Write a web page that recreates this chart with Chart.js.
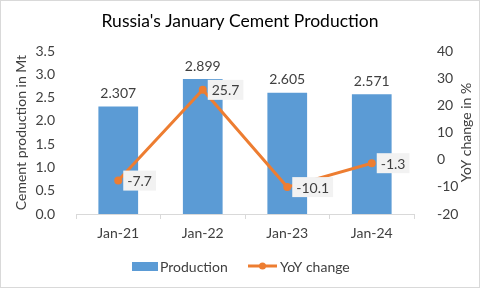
<!DOCTYPE html>
<html>
<head>
<meta charset="utf-8">
<script src="https://cdn.jsdelivr.net/npm/chart.js@4.4.1/dist/chart.umd.min.js"></script>
<style>
  html, body { margin: 0; padding: 0; background: #fff; }
  #wrap { width: 480px; height: 288px; position: relative; }
</style>
</head>
<body>
<div id="wrap"><canvas id="chart" width="480" height="288"></canvas></div>
<script>
// Data
const categories = ['Jan-21', 'Jan-22', 'Jan-23', 'Jan-24'];
const production = [2.307, 2.899, 2.605, 2.571];
const yoyChange = [-7.7, 25.7, -10.1, -1.3];
const chartTitle = "Russia's January Cement Production";
const leftTitle = 'Cement production in Mt';
const rightTitle = 'YoY change in %';

const FONT = 'Lato, "Open Sans", sans-serif';
const BLUE = '#5b9bd5';
const ORANGE = '#ed7d31';
const TEXT = '#404040';

// Draws the title, axis titles, value labels, legend and frame
const decorations = {
    id: 'decorations',
    afterDraw(chart) {
        const ctx = chart.ctx;
        const area = chart.chartArea;
        ctx.save();

        // outer frame
        ctx.strokeStyle = '#d9d9d9';
        ctx.lineWidth = 1;
        ctx.strokeRect(0.5, 0.5, 479, 287);

        // title
        ctx.fillStyle = '#000';
        ctx.font = '17.5px ' + FONT;
        ctx.textAlign = 'center';
        ctx.textBaseline = 'middle';
        ctx.fillText(chartTitle, 240, 21);

        // axis titles, both reading bottom to top
        ctx.font = '14px ' + FONT;
        ctx.fillStyle = TEXT;
        const midY = (area.top + area.bottom) / 2;
        [[21, leftTitle], [466, rightTitle]].forEach(([x, txt]) => {
            ctx.save();
            ctx.translate(x, midY);
            ctx.rotate(-Math.PI / 2);
            ctx.fillText(txt, 0, 0);
            ctx.restore();
        });

        // bar labels
        chart.getDatasetMeta(0).data.forEach((bar, i) => {
            ctx.fillText(production[i].toFixed(3), bar.x, bar.y - 13);
        });

        // line labels with grey boxes
        chart.getDatasetMeta(1).data.forEach((pt, i) => {
            const txt = yoyChange[i].toFixed(1);
            const w = ctx.measureText(txt).width + 8;
            const x = pt.x + 5;
            ctx.fillStyle = '#f2f2f2';
            ctx.fillRect(x, pt.y - 10, w, 20);
            ctx.fillStyle = TEXT;
            ctx.textAlign = 'left';
            ctx.fillText(txt, x + 4, pt.y + 1);
        });

        // legend
        const ly = 266;
        ctx.fillStyle = BLUE;
        ctx.fillRect(132, ly - 4, 26, 9);
        ctx.fillStyle = TEXT;
        ctx.textAlign = 'left';
        ctx.fillText('Production', 160, ly + 1);
        ctx.strokeStyle = ORANGE;
        ctx.lineWidth = 3;
        ctx.beginPath();
        ctx.moveTo(248, ly);
        ctx.lineTo(277, ly);
        ctx.stroke();
        ctx.fillStyle = ORANGE;
        ctx.beginPath();
        ctx.arc(262.5, ly, 3.5, 0, Math.PI * 2);
        ctx.fill();
        ctx.fillStyle = TEXT;
        ctx.fillText('YoY change', 280, ly + 1);

        ctx.restore();
    }
};

new Chart(document.getElementById('chart'), {
    type: 'bar',
    data: {
        labels: categories,
        datasets: [
            {
                type: 'bar',
                label: 'Production',
                data: production,
                backgroundColor: BLUE,
                yAxisID: 'y',
                categoryPercentage: 1,
                barPercentage: 0.47,
                order: 2
            },
            {
                type: 'line',
                label: 'YoY change',
                data: yoyChange,
                borderColor: ORANGE,
                backgroundColor: ORANGE,
                borderWidth: 3,
                pointRadius: 4,
                pointBorderWidth: 0,
                tension: 0,
                yAxisID: 'y1',
                order: 1
            }
        ]
    },
    options: {
        responsive: false,
        animation: false,
        layout: { padding: { top: 51, left: 0, right: 0, bottom: 0 } },
        plugins: {
            legend: { display: false },
            title: { display: false },
            tooltip: { enabled: false }
        },
        scales: {
            x: {
                offset: true,
                grid: { offset: true, drawOnChartArea: false, tickLength: 5, color: '#d9d9d9' },
                border: { color: '#d9d9d9' },
                ticks: { color: TEXT, font: { family: FONT, size: 14 }, padding: 6 },
                afterFit(s) { s.height = 74; }
            },
            y: {
                position: 'left',
                min: 0,
                max: 3.5,
                grid: { display: false },
                border: { display: false },
                ticks: {
                    stepSize: 0.5,
                    color: TEXT,
                    padding: 13,
                    font: { family: FONT, size: 14 },
                    callback: v => v.toFixed(1)
                },
                afterFit(s) { s.width = 76; }
            },
            y1: {
                position: 'right',
                min: -20,
                max: 40,
                grid: { display: false },
                border: { display: false },
                ticks: {
                    stepSize: 10,
                    color: TEXT,
                    padding: 15,
                    font: { family: FONT, size: 14 }
                },
                afterFit(s) { s.width = 66; }
            }
        }
    },
    plugins: [decorations]
});
</script>
</body>
</html>
